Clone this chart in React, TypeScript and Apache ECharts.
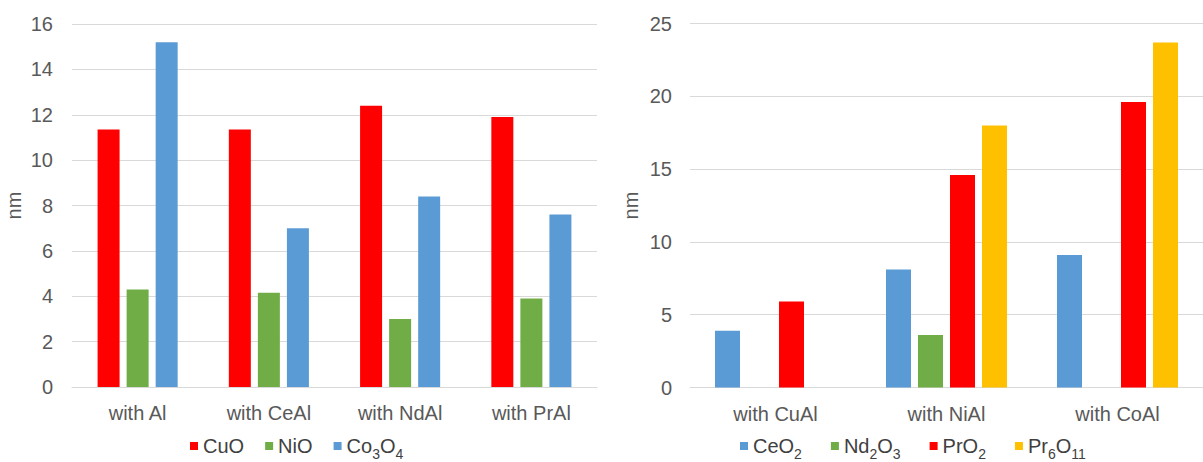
import React, { useEffect, useRef } from "react";
import * as echarts from "echarts";

const leftCategories = ["with Al", "with CeAl", "with NdAl", "with PrAl"];
const cuO = [11.35, 11.35, 12.4, 11.9];
const niO = [4.3, 4.15, 3.0, 3.9];
const co3o4 = [15.2, 7.0, 8.4, 7.6];
const leftTicks = { min: 0, max: 16, interval: 2 };

const rightCategories = ["with CuAl", "with NiAl", "with CoAl"];
const ceO2 = [3.9, 8.1, 9.1];
const nd2o3 = [null, 3.6, null];
const prO2 = [5.9, 14.6, 19.6];
const pr6o11 = [null, 18.0, 23.7];
const rightTicks = { min: 0, max: 25, interval: 5 };

const RED = "#FF0000";
const GREEN = "#70AD47";
const BLUE = "#5B9BD5";
const YELLOW = "#FFC000";
const FONT = "'Liberation Sans', Arial, sans-serif";
const TEXT = "#595959";
const LEGEND_TEXT = "#404040";

const richNames: Record<string, string> = {
  CuO: "{a|CuO}",
  NiO: "{a|NiO}",
  Co3O4: "{a|Co}{b|3}{a|O}{b|4}",
  CeO2: "{a|CeO}{b|2}",
  Nd2O3: "{a|Nd}{b|2}{a|O}{b|3}",
  PrO2: "{a|PrO}{b|2}",
  Pr6O11: "{a|Pr}{b|6}{a|O}{b|11}",
};

export default function App() {
  const ref = useRef<HTMLDivElement>(null);
  useEffect(() => {
    document.body.style.margin = "0";
    const chart = echarts.init(ref.current!, null, { renderer: "svg" });
    const legendText = {
      fontFamily: FONT,
      color: LEGEND_TEXT,
      rich: {
        a: { fontSize: 20, fontFamily: FONT, color: LEGEND_TEXT, lineHeight: 30, verticalAlign: "middle" },
        b: { fontSize: 14, fontFamily: FONT, color: LEGEND_TEXT, lineHeight: 20, verticalAlign: "bottom" },
      },
    };
    const xAxisBase = {
      type: "category",
      axisLine: { lineStyle: { color: "#D9D9D9", width: 1 } },
      axisTick: { show: false },
      axisLabel: { fontSize: 20, fontFamily: FONT, color: TEXT, margin: 16 },
    };
    const yAxisBase = {
      type: "value",
      axisLine: { show: false },
      axisTick: { show: false },
      splitLine: { lineStyle: { color: "#D9D9D9", width: 1 } },
      axisLabel: { fontSize: 20, fontFamily: FONT, color: TEXT },
      name: "nm",
      nameLocation: "middle",
      nameRotate: 90,
      nameTextStyle: { fontSize: 20, fontFamily: FONT, color: TEXT },
    };
    const bar = (name: string, data: any[], color: string, idx: number, w: number, gap: string) => ({
      name,
      type: "bar",
      data,
      xAxisIndex: idx,
      yAxisIndex: idx,
      barWidth: w,
      barGap: gap,
      itemStyle: { color },
    });
    const legendBase = {
      top: 436,
      padding: 0,
      itemWidth: 8,
      itemHeight: 8,
      icon: "rect",
      formatter: (n: string) => richNames[n],
      textStyle: legendText,
    };
    chart.setOption({
      animation: false,
      grid: [
        { left: 72, right: 606, top: 24, bottom: 75 },
        { left: 690, right: -12, top: 23.5, bottom: 74.5 },
      ],
      legend: [
        { ...legendBase, data: ["CuO", "NiO", "Co3O4"], left: 190, itemGap: 21 },
        { ...legendBase, data: ["CeO2", "Nd2O3", "PrO2", "Pr6O11"], left: 740, itemGap: 29 },
      ],
      xAxis: [
        { ...xAxisBase, gridIndex: 0, data: leftCategories },
        { ...xAxisBase, gridIndex: 1, data: rightCategories },
      ],
      yAxis: [
        { ...yAxisBase, gridIndex: 0, ...leftTicks, nameGap: 48, axisLabel: { ...yAxisBase.axisLabel, margin: 19 } },
        { ...yAxisBase, gridIndex: 1, ...rightTicks, nameGap: 49, axisLabel: { ...yAxisBase.axisLabel, margin: 18 } },
      ],
      series: [
        bar("CuO", cuO, RED, 0, 22, "32%"),
        bar("NiO", niO, GREEN, 0, 22, "32%"),
        bar("Co3O4", co3o4, BLUE, 0, 22, "32%"),
        bar("CeO2", ceO2, BLUE, 1, 25, "28%"),
        bar("Nd2O3", nd2o3, GREEN, 1, 25, "28%"),
        bar("PrO2", prO2, RED, 1, 25, "28%"),
        bar("Pr6O11", pr6o11, YELLOW, 1, 25, "28%"),
      ],
    });
    return () => chart.dispose();
  }, []);
  return <div ref={ref} style={{ width: 1203, height: 462 }} />;
}
